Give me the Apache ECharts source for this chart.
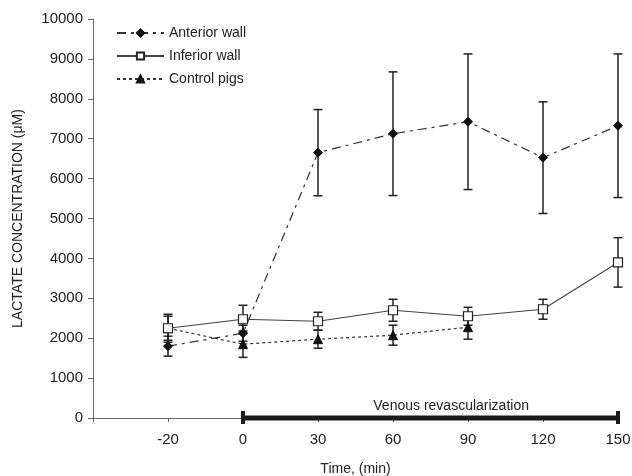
<!DOCTYPE html>
<html>
<head>
<meta charset="utf-8">
<script src="https://cdn.jsdelivr.net/npm/echarts@6/dist/echarts.min.js"></script>
<style>
  html, body { margin: 0; padding: 0; background: #fff; }
  #chart { width: 632px; height: 476px; }
</style>
</head>
<body>
<div id="chart"></div>
<script>
// time points (min); first slot is empty room before -20
var times = ['', '-20', '0', '30', '60', '90', '120', '150']

var anterior = ['-', 1800, 2125, 6650, 7125, 7425, 6525, 7325]
var anteriorErr = [0, 250, 200, 1080, 1550, 1700, 1400, 1800]

var inferior = ['-', 2250, 2475, 2425, 2700, 2550, 2725, 3900]
var inferiorErr = [0, 350, 350, 225, 275, 225, 250, 620]

var control = ['-', 2250, 1850, 1975, 2075, 2275]
var controlErr = [0, 300, 330, 225, 250, 300]

var revascFrom = '0'
var revascTo = '150'
var revascText = 'Venous revascularization'

var font = 'Liberation Sans, Arial, sans-serif'

function errData(vals, errs) {
  var out = []
  for (var i = 0; i < vals.length; i++) {
    if (vals[i] === '-') continue
    out.push([i, vals[i] - errs[i], vals[i] + errs[i]])
  }
  return out
}

function errSeries(vals, errs, z) {
  return {
    type: 'custom',
    z: z,
    silent: true,
    data: errData(vals, errs),
    renderItem: function(params, api) {
      var lo = api.coord([api.value(0), api.value(1)])
      var hi = api.coord([api.value(0), api.value(2)])
      var w = 4.5
      var st = { stroke: '#222', lineWidth: 1.5 }
      return {
        type: 'group',
        children: [
          { type: 'line', shape: { x1: lo[0], y1: lo[1], x2: hi[0], y2: hi[1] }, style: st },
          { type: 'line', shape: { x1: lo[0] - w, y1: lo[1], x2: lo[0] + w, y2: lo[1] }, style: st },
          { type: 'line', shape: { x1: hi[0] - w, y1: hi[1], x2: hi[0] + w, y2: hi[1] }, style: st }
        ]
      }
    }
  }
}

var option = {
  animation: false,
  textStyle: { fontFamily: font },
  grid: { left: 93, right: 14, top: 19, bottom: 58, containLabel: false, outerBoundsMode: 'none' },
  legend: {
    orient: 'vertical',
    left: 111,
    top: 21,
    itemWidth: 47,
    itemHeight: 9,
    itemGap: 9,
    textStyle: { fontSize: 14, color: '#222', fontFamily: font },
    data: ['Anterior wall', 'Inferior wall', 'Control pigs']
  },
  xAxis: {
    type: 'category',
    data: times,
    boundaryGap: false,
    name: 'Time, (min)',
    nameLocation: 'middle',
    nameGap: 44,
    nameTextStyle: { fontSize: 14, color: '#222' },
    axisLine: { lineStyle: { color: '#666', width: 1 } },
    axisTick: { show: true, length: 4, lineStyle: { color: '#666' } },
    axisLabel: { fontSize: 15, color: '#222', margin: 14, interval: 0 },
    splitLine: { show: false }
  },
  yAxis: {
    type: 'value',
    min: 0,
    max: 10000,
    interval: 1000,
    name: 'LACTATE CONCENTRATION (\u03bcM)',
    nameLocation: 'middle',
    nameGap: 68,
    nameTextStyle: { fontSize: 14, color: '#222' },
    axisLine: { show: true, lineStyle: { color: '#666', width: 1 } },
    axisTick: { show: true, length: 5, lineStyle: { color: '#666' } },
    axisLabel: { fontSize: 15, color: '#222', margin: 10, formatter: function(v) { return String(v) } },
    splitLine: { show: false }
  },
  series: [
    errSeries(control, controlErr, 2),
    errSeries(inferior, inferiorErr, 2),
    errSeries(anterior, anteriorErr, 2),
    {
      name: 'Control pigs',
      type: 'line',
      z: 3,
      data: control,
      symbol: 'triangle',
      symbolSize: 9,
      itemStyle: { color: '#111', borderColor: '#111', borderWidth: 1 },
      lineStyle: { color: '#333', width: 1.2, type: [3, 3] }
    },
    {
      name: 'Anterior wall',
      type: 'line',
      z: 4,
      data: anterior,
      symbol: 'diamond',
      symbolSize: 9,
      itemStyle: { color: '#111', borderColor: '#111', borderWidth: 1 },
      lineStyle: { color: '#333', width: 1.2, type: [9, 5, 3, 5] }
    },
    {
      name: 'Inferior wall',
      type: 'line',
      z: 5,
      data: inferior,
      symbol: 'rect',
      symbolSize: 9,
      itemStyle: { color: '#fff', borderColor: '#222', borderWidth: 1.2 },
      lineStyle: { color: '#444', width: 1.2, type: 'solid' }
    },
    {
      type: 'custom',
      z: 6,
      silent: true,
      data: [[times.indexOf(revascFrom), times.indexOf(revascTo), 0]],
      renderItem: function(params, api) {
        var a = api.coord([api.value(0), api.value(2)])
        var b = api.coord([api.value(1), api.value(2)])
        var st = { stroke: '#1a1a1a', lineWidth: 5 }
        return {
          type: 'group',
          children: [
            { type: 'line', shape: { x1: a[0], y1: a[1], x2: b[0], y2: b[1] }, style: st },
            { type: 'line', shape: { x1: a[0], y1: a[1] - 7, x2: a[0], y2: a[1] + 6 }, style: { stroke: '#1a1a1a', lineWidth: 4 } },
            { type: 'line', shape: { x1: b[0], y1: b[1] - 7, x2: b[0], y2: b[1] + 6 }, style: { stroke: '#1a1a1a', lineWidth: 4 } },
            {
              type: 'text',
              style: {
                text: revascText,
                x: a[0] + (b[0] - a[0]) * 0.555,
                y: a[1] - 5,
                align: 'center',
                verticalAlign: 'bottom',
                fontSize: 14,
                fontFamily: font,
                fill: '#222'
              }
            }
          ]
        }
      }
    }
  ]
}

var chart = echarts.init(document.getElementById('chart'))
chart.setOption(option)
</script>
</body>
</html>
